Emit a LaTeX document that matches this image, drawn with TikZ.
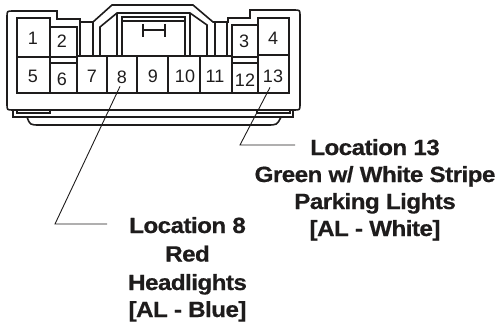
\documentclass[tikz,border=0pt]{standalone}
\usepackage{fontspec}
\setmainfont{Liberation Sans}
\newfontfamily\labfont[FakeStretch=1.1,LetterSpace=-2.5,FakeBold=0.6]{Liberation Sans}
\definecolor{ink}{RGB}{30,28,28}
\tikzset{
  housing/.style={draw=ink, line width=1.6pt, line join=miter},
  cellbox/.style={draw=ink, line width=1.6pt},
  leader/.style={draw=ink, line width=0.9pt},
  pinnum/.style={anchor=base, inner sep=0pt, text=ink, font=\fontsize{18}{18}\selectfont},
  labtext/.style={anchor=base, inner sep=0pt, text=ink, font=\labfont\bfseries\fontsize{22}{27}\selectfont}
}
\begin{document}
\begin{tikzpicture}[x=1pt,y=-1pt]
\path[use as bounding box] (0,0) rectangle (502,323);
% outer housing
\draw[housing] (13,110) .. controls (7,110) .. (7,104) -- (7,17) .. controls (7,11) .. (13,11)
  -- (57,11) -- (57,19) -- (80,19) -- (80,22) -- (93,22) -- (112,5) -- (193,5) -- (213,22)
  -- (228,22) -- (228,18) -- (250,18) -- (250,10) -- (294,10) .. controls (300,10) .. (300,16)
  -- (300,104) .. controls (300,110) .. (294,110) -- cycle;
% inner latch frame
\draw[housing] (100,56) -- (100,27) -- (117,13) -- (190,13) -- (207,25) -- (207,56);
\draw[housing] (117,13) -- (117,56);
\draw[housing] (190,13) -- (190,56);
\draw[housing] (122,56) -- (122,17) -- (185,17) -- (185,56);
\draw[housing] (122,21) -- (185,21);
\draw[housing] (143,24) -- (143,37);
\draw[housing] (165,24) -- (165,37);
\draw[housing] (143,30) -- (165,30);
% slots
\draw[housing] (80,22) -- (80,56);
\draw[housing] (93,22) -- (93,56);
\draw[housing] (215,22) -- (215,56);
\draw[housing] (227,22) -- (227,56);
\draw[housing] (77,56) -- (232,56);
% cells
\draw[cellbox] (17,18) rectangle (50,57);
\draw[cellbox] (50,27) rectangle (77,57);
\draw[cellbox] (17,57) rectangle (50,93);
\draw[cellbox] (50,63) rectangle (77,93);
\draw[cellbox] (77,56) rectangle (107,93);
\draw[cellbox] (107,56) rectangle (137,93);
\draw[cellbox] (137,56) rectangle (168,93);
\draw[cellbox] (168,56) rectangle (200,93);
\draw[cellbox] (200,56) rectangle (232,93);
\draw[cellbox] (232,25) rectangle (258,57);
\draw[cellbox] (232,63) rectangle (258,93);
\draw[cellbox] (258,18) rectangle (289,55);
\draw[cellbox] (258,55) rectangle (289,93);
% bottom strip
\draw[housing] (13,110) -- (13,117) -- (293,117) -- (293,110);
\draw[housing] (17,110) rectangle (50,113);
\draw[housing] (257,110) rectangle (290,113);
\draw[housing] (27,117) .. controls (30,125) .. (40,125) -- (267,125) .. controls (277,125) .. (281,117);
% pin numbers
\node[pinnum] (p1) at (33,45) {1};
\node[pinnum] (p2) at (62,48) {2};
\node[pinnum] (p3) at (244,48) {3};
\node[pinnum] (p4) at (273,45) {4};
\node[pinnum] (p5) at (33,83) {5};
\node[pinnum] (p6) at (62,86) {6};
\node[pinnum] (p7) at (92,83) {7};
\node[pinnum] (p8) at (122,84) {8};
\node[pinnum] (p9) at (153,83) {9};
\node[pinnum] (p10) at (185,83) {10};
\node[pinnum] (p11) at (215,83) {11};
\node[pinnum] (p12) at (245,87) {12};
\node[pinnum] (p13) at (273,83) {13};
% labels
\node[labtext] (l8a) at (187.5,233) {Location 8};
\node[labtext] (l8b) at (187.5,261.5) {Red};
\node[labtext] (l8c) at (187.5,290) {Headlights};
\node[labtext] (l8d) at (187.5,317) {[AL - Blue]};
\node[labtext] (l13a) at (375,155) {Location 13};
\node[labtext] (l13b) at (375,182) {Green w/ White Stripe};
\node[labtext] (l13c) at (375,209) {Parking Lights};
\node[labtext] (l13d) at (375,236) {[AL - White]};
% leaders
\coordinate (k8) at (55,224);
\coordinate (e8) at (107,224);
\coordinate (k13) at (240,145);
\coordinate (e13) at (295,145);
\draw[leader] ([xshift=-2pt,yshift=-2pt]p8.south) -- (k8) -- (e8);
\draw[leader] ([xshift=-3pt,yshift=-4pt]p13.south) -- (k13) -- (e13);
\end{tikzpicture}
\end{document}
